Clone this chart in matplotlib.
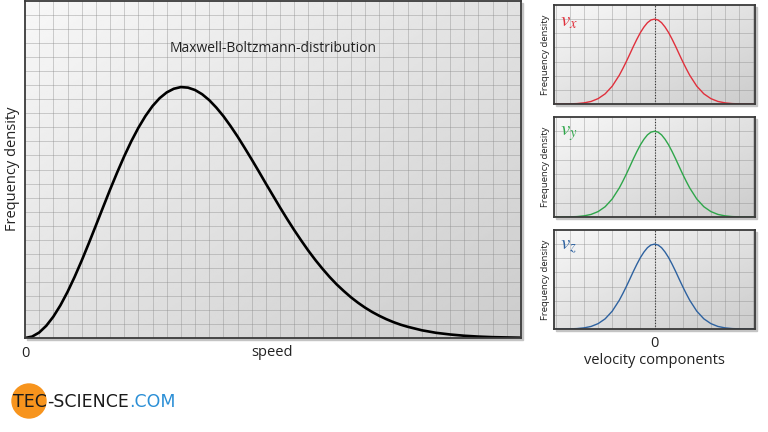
import numpy as np
import matplotlib.pyplot as plt
from matplotlib.patches import Rectangle, Ellipse

plt.rcParams['font.family'] = ['Open Sans', 'DejaVu Sans']
plt.rcParams['mathtext.fontset'] = 'stix'

# Maxwell-Boltzmann curve (grid units)
speed = [0, 0.5, 1, 1.5, 2, 2.5, 3, 3.5, 4, 4.5, 5, 5.5, 6, 6.5, 7, 7.5, 8, 8.5,
         9, 9.5, 10, 10.5, 11, 11.5, 12, 12.5, 13, 13.5, 14, 14.5, 15, 15.5,
         16, 16.5, 17, 17.5, 18, 18.5, 19, 19.5, 20, 20.5, 21, 21.5, 22, 22.5,
         23, 23.5, 24, 24.5, 25, 25.5, 26, 26.5, 27, 28, 29, 30, 31, 32, 33,
         34, 35]
density = [0, 0.10, 0.39, 0.87, 1.52, 2.33, 3.28, 4.35, 5.51, 6.74, 8.01, 9.29,
           10.56, 11.78, 12.94, 14.01, 14.97, 15.81, 16.52, 17.08, 17.49, 17.75,
           17.87, 17.83, 17.66, 17.36, 16.94, 16.41, 15.80, 15.10, 14.35, 13.54,
           12.71, 11.86, 10.99, 10.14, 9.29, 8.47, 7.68, 6.93, 6.21, 5.54, 4.92,
           4.34, 3.81, 3.34, 2.90, 2.51, 2.16, 1.85, 1.58, 1.34, 1.13, 0.95,
           0.80, 0.55, 0.37, 0.25, 0.16, 0.10, 0.06, 0.04, 0.02]

# velocity component curve (same in all three small panels)
vel = [-7, -6.5, -6, -5.5, -5, -4.5, -4, -3.5, -3, -2.5, -2.25, -2, -1.75,
       -1.5, -1.25, -1, -0.75, -0.5, -0.25, 0, 0.25, 0.5, 0.75, 1, 1.25, 1.5,
       1.75, 2, 2.25, 2.5, 3, 3.5, 4, 4.5, 5, 5.5, 6, 6.5, 7]
vel_density = [0, 0, 0.01, 0.03, 0.08, 0.18, 0.38, 0.72, 1.26, 2.03, 2.50, 3.00,
               3.53, 4.07, 4.58, 5.05, 5.44, 5.75, 5.94, 6.00, 5.94, 5.75, 5.44,
               5.05, 4.58, 4.07, 3.53, 3.00, 2.50, 2.03, 1.26, 0.72, 0.38, 0.18,
               0.08, 0.03, 0.01, 0, 0]

components = ['$v_x$', '$v_y$', '$v_z$']
comp_colors = ['#e0303c', '#2ea64a', '#2e62a0']

W, H = 768, 432
fig = plt.figure(figsize=(W / 100, H / 100), dpi=100)


def add_panel(x0, y0, x1, y1):
    ax = fig.add_axes([x0 / W, 1 - y1 / H, (x1 - x0) / W, (y1 - y0) / H])
    # drop shadow
    fig.patches.append(Rectangle(((x0 + 2) / W, 1 - (y1 + 2) / H),
                                 (x1 - x0) / W, (y1 - y0) / H,
                                 transform=fig.transFigure, color='#c4c4c4',
                                 zorder=-1))
    return ax


def style(ax, xlim, ylim, xgrid, ygrid):
    # light top-left to darker bottom-right background
    gx, gy = np.meshgrid(np.linspace(0, 1, 200), np.linspace(0, 1, 200))
    ax.imshow(2 - (gx + gy), extent=[xlim[0], xlim[1], ylim[0], ylim[1]],
              origin='upper', aspect='auto', cmap='gray', vmin=-9.4, vmax=2.35,
              zorder=0, interpolation='bilinear')
    for g in xgrid:
        ax.axvline(g, color='#8a8a8a', lw=0.7, alpha=0.4, zorder=1)
    for g in ygrid:
        ax.axhline(g, color='#8a8a8a', lw=0.7, alpha=0.4, zorder=1)
    ax.set_xlim(xlim)
    ax.set_ylim(ylim)
    ax.set_yticks([])
    for s in ax.spines.values():
        s.set_color('#3a3a3a')
        s.set_linewidth(1.3)
        s.set_zorder(5)
    ax.tick_params(length=0, labelsize=10.5, pad=6, colors='#222222')


# main panel
ax = add_panel(25, 1, 521, 338)
style(ax, (0, 35), (0, 24), range(1, 35), range(1, 24))
ax.plot(speed, density, color='black', lw=1.9, zorder=3, solid_capstyle='round')
ax.set_xticks([0])
ax.set_xticklabels(['0'])
ax.text(0.5, 0.86, 'Maxwell-Boltzmann-distribution', transform=ax.transAxes,
        ha='center', va='center', fontsize=10, color='#222222')
fig.text(13 / W, 1 - 169 / H, 'Frequency density', rotation=90, ha='center',
         va='center', fontsize=10.5, color='#222222')
fig.text(272 / W, 1 - 352 / H, 'speed', ha='center', va='center',
         fontsize=10.5, color='#222222')

# small panels
tops = [(5, 104), (117, 217), (230, 329)]
for i, (y0, y1) in enumerate(tops):
    a = add_panel(554, y0, 755, y1)
    style(a, (-7.13, 7.13), (0, 7), range(-7, 8), range(1, 7))
    a.axvline(0, color='#333333', lw=0.8, ls=(0, (1, 1.5)), zorder=2)
    a.plot(vel, vel_density, color=comp_colors[i], lw=1.0, zorder=3)
    a.text(0.03, 0.84, components[i], transform=a.transAxes, color=comp_colors[i],
           fontsize=15, ha='left', va='center', zorder=4)
    if i == 2:
        a.set_xticks([0])
        a.set_xticklabels(['0'])
        a.tick_params(pad=5)
    else:
        a.set_xticks([])
    fig.text(546 / W, 1 - (y0 + y1) / 2 / H, 'Frequency density', rotation=90,
             ha='center', va='center', fontsize=6.8, color='#222222')

fig.text(654 / W, 1 - 360 / H, 'velocity components', ha='center', va='center',
         fontsize=10.5, color='#222222')

# logo
fig.patches.append(Ellipse((29 / W, 1 - 401 / H), 34 / W, 34 / H,
                           transform=fig.transFigure, color='#f7941d', zorder=2))
logo_parts = [('TEC', '#1a1a1a'), ('-SCIENCE', '#1a1a1a'), ('.COM', '#2b8fd6')]
renderer = fig.canvas.get_renderer()
x = 13
for txt, col in logo_parts:
    t = fig.text(x / W, 1 - 402 / H, txt, ha='left', va='center', fontsize=12.5,
                 color=col, family='DejaVu Sans', zorder=3)
    x += t.get_window_extent(renderer).width

fig.savefig('out.png', dpi=100)
